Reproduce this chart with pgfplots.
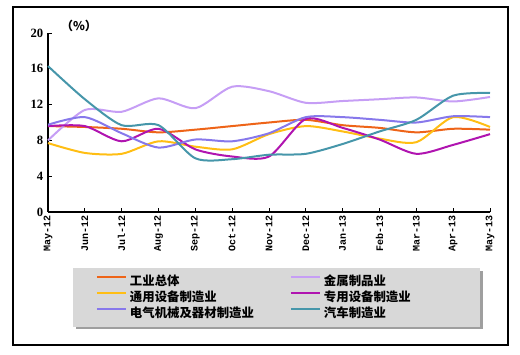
\documentclass[border=0pt]{standalone}
\usepackage{fontspec}
\setmainfont{Liberation Serif}
\newfontfamily\cjk{Noto Sans CJK SC}
\newfontfamily\monob{Liberation Mono}
\usepackage{pgfplots}
\pgfplotsset{compat=1.18}
\usetikzlibrary{backgrounds}
\definecolor{cOrange}{RGB}{238,100,24}
\definecolor{cLav}{RGB}{198,158,245}
\definecolor{cYel}{RGB}{255,190,20}
\definecolor{cMag}{RGB}{176,20,176}
\definecolor{cPeri}{RGB}{135,120,235}
\definecolor{cTeal}{RGB}{70,150,170}
\definecolor{legbg}{RGB}{216,216,216}
\begin{document}
\begin{tikzpicture}
\useasboundingbox (0pt,0pt) rectangle (390pt,265.5pt);
\draw[line width=0.9pt] (9.75pt,6.75pt) rectangle (381pt,260.25pt);
\begin{axis}[
  at={(36pt,106.5pt)}, anchor=south west,
  scale only axis, width=331.5pt, height=134.25pt,
  xmin=0, xmax=12, ymin=0, ymax=20,
  axis lines=left, axis line style={-, line width=0.9pt},
  tick align=inside, major tick length=3pt,
  tick style={black, line width=0.7pt},
  xtick={0,...,12},
  xticklabels={May-12,Jun-12,Jul-12,Aug-12,Sep-12,Oct-12,Nov-12,Dec-12,Jan-13,Feb-13,Mar-13,Apr-13,May-13},
  xticklabel style={rotate=90, anchor=east, font=\monob\bfseries\fontsize{7.5}{8}\selectfont, inner xsep=2.5pt},
  ytick={0,4,8,12,16,20},
  yticklabel style={font=\bfseries\fontsize{9.5}{10}\selectfont},
  /pgf/number format/assume math mode=true,
  clip=false,
  legend columns=2,
  legend cell align=left,
  legend style={name=leg, at={(0.0566,-0.313)}, anchor=north west, fill=legbg, draw=none,
    font=\cjk\bfseries\fontsize{9.3}{11}\selectfont,
    inner xsep=17pt, inner ysep=3pt, row sep=-1.5pt,
    /tikz/every even column/.append style={column sep=0pt}},
  legend image code/.code={\draw[line width=1.5pt] (0pt,3.2pt) -- (22pt,3.2pt);},
  every axis plot/.append style={line width=1.5pt, smooth, tension=0.45, no markers},
]
\node[font=\cjk\bfseries\fontsize{9}{10}\selectfont] at (axis description cs:0.07,1.04) {（\%）};
\addplot[cOrange] coordinates {(0,9.6)(1,9.5)(2,9.3)(3,8.9)(4,9.2)(5,9.6)(6,10.0)(7,10.3)(8,9.7)(9,9.4)(10,8.9)(11,9.3)(12,9.2)};
\addlegendentry{\makebox[118pt][l]{工业总体}}
\addplot[cLav] coordinates {(0,8.0)(1,11.4)(2,11.2)(3,12.7)(4,11.6)(5,14.0)(6,13.5)(7,12.2)(8,12.4)(9,12.6)(10,12.8)(11,12.35)(12,12.85)};
\addlegendentry{\makebox[98pt][l]{金属制品业}}
\addplot[cYel] coordinates {(0,7.7)(1,6.6)(2,6.5)(3,7.9)(4,7.3)(5,7.0)(6,8.7)(7,9.6)(8,9.0)(9,8.2)(10,7.8)(11,10.6)(12,9.5)};
\addlegendentry{通用设备制造业}
\addplot[cMag] coordinates {(0,9.6)(1,9.6)(2,7.9)(3,9.3)(4,7.0)(5,6.2)(6,6.2)(7,10.4)(8,9.4)(9,8.1)(10,6.5)(11,7.5)(12,8.7)};
\addlegendentry{专用设备制造业}
\addplot[cPeri] coordinates {(0,9.75)(1,10.6)(2,8.8)(3,7.2)(4,8.1)(5,7.9)(6,8.8)(7,10.6)(8,10.6)(9,10.3)(10,10.0)(11,10.7)(12,10.6)};
\addlegendentry{电气机械及器材制造业}
\addplot[cTeal] coordinates {(0,16.3)(1,12.6)(2,9.7)(3,9.7)(4,6.0)(5,5.9)(6,6.4)(7,6.5)(8,7.6)(9,9.0)(10,10.3)(11,13.0)(12,13.3)};
\addlegendentry{汽车制造业}
\end{axis}
\begin{scope}[on background layer]
\fill[gray!75] ([shift={(2pt,-2pt)}]leg.south west) rectangle ([shift={(2pt,-2pt)}]leg.north east);
\end{scope}
\end{tikzpicture}
\end{document}
